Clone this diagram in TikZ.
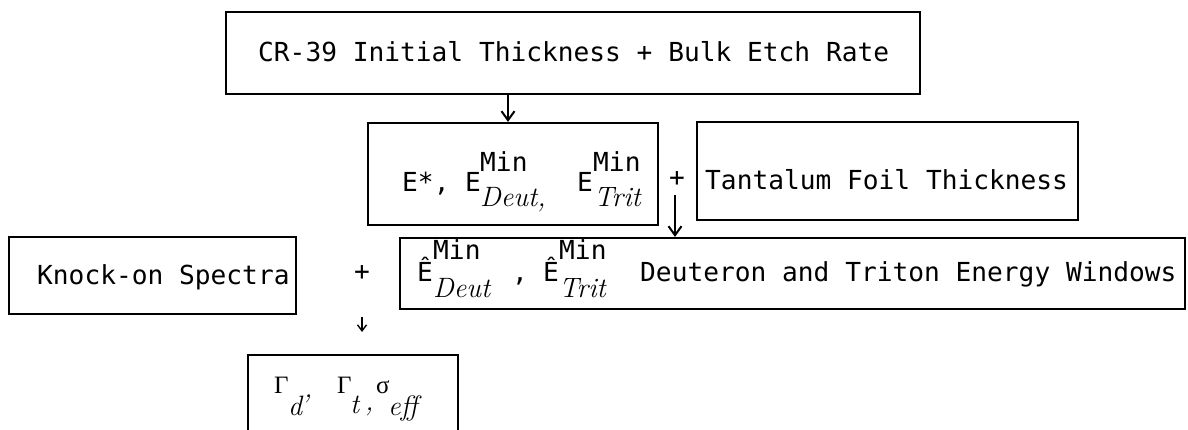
\documentclass[tikz,border=0pt]{standalone}
\usepackage{fontspec}
\usetikzlibrary{arrows.meta}
\newfontfamily\monof{DejaVu Sans Mono}
\newfontfamily\grkf{Liberation Serif}
\tikzset{
  boxx/.style={draw, line width=2.2pt, inner sep=0pt},
  mt/.style={font=\monof\fontsize{26.2}{30}\selectfont, anchor=base west, inner sep=0pt},
  it/.style={font=\fontsize{28}{30}\selectfont\itshape, anchor=base west, inner sep=0pt},
  gk/.style={font=\grkf\fontsize{25}{28}\selectfont, anchor=base west, inner sep=0pt},
  arr/.style={-{Straight Barb[length=9pt,width=13pt]}, line width=2pt},
  arrsmall/.style={-{Straight Barb[length=6pt,width=9pt]}, line width=1.4pt}
}
\begin{document}
\begin{tikzpicture}[x=1pt,y=-1pt]
\useasboundingbox (0,0) rectangle (1188,430);
\fill[white] (0,0) rectangle (1188,430);
% boxes
\node[boxx, minimum width=694pt, minimum height=82pt] (b1) at (573,53) {};
\node[boxx, minimum width=290pt, minimum height=102pt] (b2) at (513,174) {};
\node[boxx, minimum width=381pt, minimum height=98pt] (b3) at (887.5,171) {};
\node[boxx, minimum width=785pt, minimum height=71pt] (b4) at (792.5,273.5) {};
\node[boxx, minimum width=287pt, minimum height=77pt] (b5) at (152.5,275.5) {};
\node[boxx, minimum width=210pt, minimum height=90pt] (b6) at (353,400) {};
% texts
\node[mt] (t1) at (258,62) {CR-39 Initial Thickness + Bulk Etch Rate};
\node[mt] (t2a) at (402,192) {E*,};
\node[mt] (t2b) at (465,192) {E};
\node[mt] (t2c) at (480,172) {Min};
\node[it] (t2d) at (480,207) {Deut,};
\node[mt] (t2e) at (577,192) {E};
\node[mt] (t2f) at (593,172) {Min};
\node[it] (t2g) at (594,207) {Trit};
\node[mt] (t3) at (705,190) {Tantalum Foil Thickness};
\node[mt] (t4a) at (417,282) {Ê};
\node[mt] (t4b) at (433,260) {Min};
\node[it] (t4c) at (433,298) {Deut};
\node[mt] (t4d) at (512,282) {,};
\node[mt] (t4e) at (543,282) {Ê};
\node[mt] (t4f) at (559,260) {Min};
\node[it] (t4g) at (559,298) {Trit};
\node[mt] (t4h) at (640,282) {Deuteron and Triton Energy Windows};
\node[mt] (t5) at (37,284) {Knock-on Spectra};
\node[gk] (t6a) at (274,393) {Γ};
\node[it] (t6b) at (288,415) {d};
\node[it] (t6c) at (304,397) {,};
\node[gk] (t6d) at (337,393) {Γ};
\node[it] (t6e) at (350,413) {t};
\node[it] (t6f) at (365,410) {,};
\node[gk] (t6g) at (376,393) {σ};
\node[it] (t6h) at (388,415) {eff};
% plus signs
\node[mt, anchor=center] (p1) at (677,179) {+};
\node[mt, anchor=center] (p2) at (362,273) {+};
% connectors
\coordinate (a1) at (508,0);
\coordinate (a2s) at (675,195);
\coordinate (a3s) at (362,317);
\coordinate (a3e) at (362,332);
\draw[arr] (b1.south -| a1) -- (b2.north -| a1);
\draw[arr] (a2s) -- (b4.north -| a2s);
\draw[arrsmall] (a3s) -- (a3e);
\end{tikzpicture}
\end{document}
